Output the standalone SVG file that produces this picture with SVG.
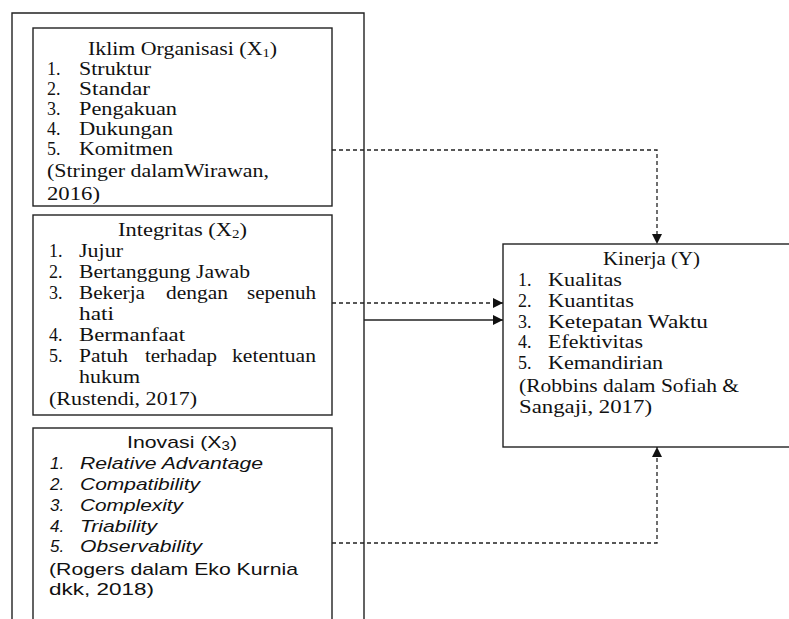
<svg xmlns="http://www.w3.org/2000/svg" width="789" height="619" viewBox="0 0 789 619">
<defs>
<style>
.box{fill:none;stroke:#222;stroke-width:1.4}
.ln{fill:none;stroke:#222;stroke-width:1.3}
.dash{stroke-dasharray:4 3}
.t{font-family:"Liberation Serif","Times New Roman",serif;font-size:18px;fill:#111}
.s{font-family:"Liberation Sans",Arial,sans-serif;font-size:17px;fill:#111}
.i{font-style:italic}
.sub{font-size:12px}
</style>
<marker id="ah" markerUnits="userSpaceOnUse" markerWidth="11" markerHeight="10" refX="10" refY="5" orient="auto">
<path d="M0,0 L10,5 L0,10 Z" fill="#111"/>
</marker>
</defs>
<rect width="789" height="619" fill="#fff"/>
<g id="outer">
<path class="box" d="M12,625 V13 H364 V625"/>
</g>
<g id="x1">
<rect class="box" x="33" y="28" width="299" height="178"/>
<text class="t" x="88" y="55" textLength="189" lengthAdjust="spacingAndGlyphs">Iklim Organisasi (X<tspan class="sub" dy="2">1</tspan><tspan dy="-2">)</tspan></text>
<text class="t" x="47" y="75">1.</text><text class="t" x="79" y="75" textLength="72" lengthAdjust="spacingAndGlyphs">Struktur</text>
<text class="t" x="47" y="95">2.</text><text class="t" x="79" y="95" textLength="71" lengthAdjust="spacingAndGlyphs">Standar</text>
<text class="t" x="47" y="115">3.</text><text class="t" x="79" y="115" textLength="98" lengthAdjust="spacingAndGlyphs">Pengakuan</text>
<text class="t" x="47" y="135">4.</text><text class="t" x="79" y="135" textLength="94" lengthAdjust="spacingAndGlyphs">Dukungan</text>
<text class="t" x="47" y="155">5.</text><text class="t" x="79" y="155" textLength="94" lengthAdjust="spacingAndGlyphs">Komitmen</text>
<text class="t" x="47" y="177" textLength="222" lengthAdjust="spacingAndGlyphs">(Stringer dalamWirawan,</text>
<text class="t" x="47" y="200" textLength="53" lengthAdjust="spacingAndGlyphs">2016)</text>
</g>
<g id="x2">
<rect class="box" x="33" y="215" width="299" height="200"/>
<text class="t" x="118" y="236" textLength="129" lengthAdjust="spacingAndGlyphs">Integritas (X<tspan class="sub" dy="2">2</tspan><tspan dy="-2">)</tspan></text>
<text class="t" x="49" y="257">1.</text><text class="t" x="79" y="257" textLength="44" lengthAdjust="spacingAndGlyphs">Jujur</text>
<text class="t" x="49" y="278">2.</text><text class="t" x="79" y="278" textLength="171" lengthAdjust="spacingAndGlyphs">Bertanggung Jawab</text>
<text class="t" x="49" y="299">3.</text><text class="t" x="79" y="299" textLength="66" lengthAdjust="spacingAndGlyphs">Bekerja</text><text class="t" x="166" y="299" textLength="62" lengthAdjust="spacingAndGlyphs">dengan</text><text class="t" x="247" y="299" textLength="69" lengthAdjust="spacingAndGlyphs">sepenuh</text>
<text class="t" x="79" y="320" textLength="35" lengthAdjust="spacingAndGlyphs">hati</text>
<text class="t" x="49" y="341">4.</text><text class="t" x="79" y="341" textLength="106" lengthAdjust="spacingAndGlyphs">Bermanfaat</text>
<text class="t" x="49" y="362">5.</text><text class="t" x="79" y="362" textLength="49" lengthAdjust="spacingAndGlyphs">Patuh</text><text class="t" x="145" y="362" textLength="72" lengthAdjust="spacingAndGlyphs">terhadap</text><text class="t" x="232" y="362" textLength="84" lengthAdjust="spacingAndGlyphs">ketentuan</text>
<text class="t" x="79" y="383" textLength="61" lengthAdjust="spacingAndGlyphs">hukum</text>
<text class="t" x="49" y="405" textLength="148" lengthAdjust="spacingAndGlyphs">(Rustendi, 2017)</text>
</g>
<g id="x3">
<rect class="box" x="33" y="428" width="299" height="200"/>
<text class="s" x="127" y="448" textLength="110" lengthAdjust="spacingAndGlyphs">Inovasi (X<tspan class="sub" dy="2">3</tspan><tspan dy="-2">)</tspan></text>
<text class="s i" x="50" y="469">1.</text><text class="s i" x="80" y="469" textLength="183" lengthAdjust="spacingAndGlyphs">Relative Advantage</text>
<text class="s i" x="50" y="490">2.</text><text class="s i" x="80" y="490" textLength="120" lengthAdjust="spacingAndGlyphs">Compatibility</text>
<text class="s i" x="50" y="511">3.</text><text class="s i" x="80" y="511" textLength="103" lengthAdjust="spacingAndGlyphs">Complexity</text>
<text class="s i" x="50" y="532">4.</text><text class="s i" x="80" y="532" textLength="77" lengthAdjust="spacingAndGlyphs">Triability</text>
<text class="s i" x="50" y="552">5.</text><text class="s i" x="80" y="552" textLength="122" lengthAdjust="spacingAndGlyphs">Observability</text>
<text class="s" x="49" y="575" textLength="249" lengthAdjust="spacingAndGlyphs">(Rogers dalam Eko Kurnia</text>
<text class="s" x="49" y="595" textLength="105" lengthAdjust="spacingAndGlyphs">dkk,  2018)</text>
</g>
<g id="y">
<rect class="box" x="503" y="244" width="300" height="203"/>
<text class="t" x="603" y="265" textLength="97" lengthAdjust="spacingAndGlyphs">Kinerja (Y)</text>
<text class="t" x="518" y="286">1.</text><text class="t" x="548" y="286" textLength="74" lengthAdjust="spacingAndGlyphs">Kualitas</text>
<text class="t" x="518" y="307">2.</text><text class="t" x="548" y="307" textLength="86" lengthAdjust="spacingAndGlyphs">Kuantitas</text>
<text class="t" x="518" y="328">3.</text><text class="t" x="548" y="328" textLength="160" lengthAdjust="spacingAndGlyphs">Ketepatan Waktu</text>
<text class="t" x="518" y="348">4.</text><text class="t" x="548" y="348" textLength="95" lengthAdjust="spacingAndGlyphs">Efektivitas</text>
<text class="t" x="518" y="369">5.</text><text class="t" x="548" y="369" textLength="115" lengthAdjust="spacingAndGlyphs">Kemandirian</text>
<text class="t" x="519" y="392" textLength="220" lengthAdjust="spacingAndGlyphs">(Robbins dalam Sofiah &amp;</text>
<text class="t" x="519" y="413" textLength="133" lengthAdjust="spacingAndGlyphs">Sangaji, 2017)</text>
</g>
<g id="connectors">
<path class="ln dash" d="M332,150 H657 V244" marker-end="url(#ah)"/>
<path class="ln dash" d="M332,303 H503" marker-end="url(#ah)"/>
<path class="ln" d="M364,320 H503" marker-end="url(#ah)"/>
<path class="ln dash" d="M332,543 H657 V447" marker-end="url(#ah)"/>
</g>
</svg>
